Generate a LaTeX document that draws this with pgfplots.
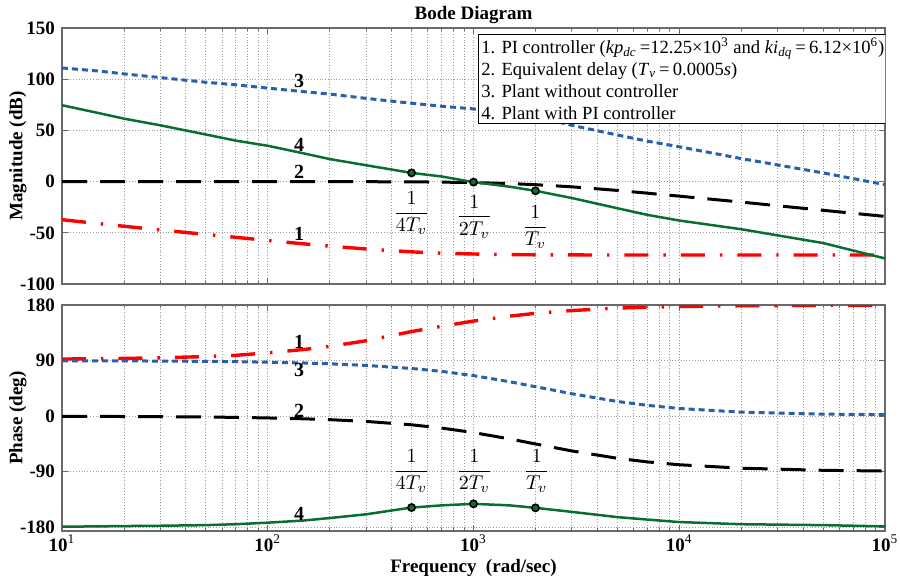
\documentclass[border=0pt]{standalone}
\usepackage{fontspec}
\setmainfont{Liberation Serif}
\usepackage{pgfplots}
\pgfplotsset{compat=1.18}
\usepackage{pgfplotstable}

\definecolor{mred}{RGB}{255,0,0}
\definecolor{mblue}{RGB}{42,95,170}
\definecolor{mgreen}{RGB}{10,110,50}
\definecolor{frame}{RGB}{105,105,105}

% magnitude (dB): 1 PI, 2 delay, 3 plant, 4 plant+PI
\pgfplotstableread{
f      m1     m2     m3     m4
10     -37.2  0      111    74.6
15     -41.0  0      108    67
20     -43.6  0      105.2  61.5
30     -47.2  0      101.6  55
50     -51.6  0      97     46
70     -54.4  0      94.5   40
100    -57.5  0      91.3   35
150    -60.8  0      87.8   27.5
200    -63.0  0      85.5   22
300    -65.8  -0.1   81.3   16
500    -68.6  -0.26  76.5   8.5
700    -69.9  -0.5   73.6   5
1000   -70.7  -0.97  71     -0.5
1500   -71.3  -1.9   67.5   -5
2000   -71.5  -3.0   63.5   -9
3000   -71.6  -5.1   55     -16
5000   -71.7  -8.6   45.5   -26
7000   -71.7  -11.3  39.5   -32.5
10000  -71.7  -14.2  34     -38
20000  -71.7  -20.0  22.5   -46.5
50000  -71.7  -28.0  8.5    -60
100000 -71.7  -34.0  -3     -75
}\magdata

% phase (deg)
\pgfplotstableread{
f      p1     p2     p3     p4
10     92.5   -0.3   89.7   -179
15     93     -0.4   89.6   -178.5
20     93.5   -0.6   89.5   -178
30     94.5   -0.9   89.2   -177.5
50     96.5   -1.4   88.7   -176.5
70     98.5   -2.0   88.2   -175
100    102.5  -2.9   87.4   -172.5
150    108    -4.3   86.1   -169
200    113    -5.7   84.8   -165
300    122    -8.5   82.2   -159
500    137    -14    77.2   -148
700    145.5  -19.3  72.5   -144.5
1000   154    -26.6  65.6   -142
1500   162    -36.9  55.7   -144.5
2000   166.5  -45    47.7   -148.5
3000   171    -56.3  36.3   -155
5000   175    -68.2  23.8   -163.5
7000   176.5  -74.1  17.5   -167.5
10000  177.5  -78.7  12.4   -171.5
20000  178.8  -84.3  6.5    -175
50000  179.5  -87.7  3.3    -176.5
100000 179.7  -88.9  2.5    -178.5
}\phasedata

\newcommand\lbl{\bfseries\fontsize{10}{12}\selectfont}
\newcommand\frc{\fontsize{10}{12}\selectfont}
\newcommand\tfont{\bfseries\fontsize{9.5}{11}\selectfont}

\pgfplotsset{
  c1/.style={mred, line width=1.7pt, dash pattern=on 12pt off 7.5pt on 1.2pt off 7.5pt},
  c2/.style={black, line width=1.5pt, dash pattern=on 12.5pt off 6.5pt},
  c3/.style={mblue, line width=1.5pt, dash pattern=on 3pt off 2pt},
  c4/.style={mgreen, line width=1.25pt},
  pts/.style={only marks, mark=*, mark size=1.8pt, mark options={draw=black, fill=mgreen, line width=0.8pt, solid}},
}

\begin{document}
\begin{tikzpicture}
\path[use as bounding box] (0,0) rectangle (450pt,287.5pt);

\begin{semilogxaxis}[
  scale only axis, width=411.5pt, height=128pt,
  at={(31pt,145.5pt)}, anchor=south west,
  xmin=10, xmax=100000, ymin=-100, ymax=150,
  grid=both,
  major grid style={gray!75, densely dotted, line width=0.4pt},
  minor grid style={gray!75, densely dotted, line width=0.4pt},
  axis line style={frame, line width=1pt},
  tick style={frame, line width=0.4pt},
  major tick length=3pt, minor tick length=1.5pt,
  tick align=inside,
  xtick={10,100,1000,10000,100000},
  xticklabels={},
  ytick={-100,-50,0,50,100,150},
  yticklabels={-100,-50,0,50,100,150},
  yticklabel style={font=\tfont},
  ylabel={Magnitude (dB)},
  ylabel style={at={(axis description cs:-0.0535,0.5)}, anchor=center, font=\tfont},
  title={Bode Diagram},
  every axis title shift=0pt,
  title style={at={(axis description cs:0.5,1)}, anchor=center, font=\tfont, yshift=6.5pt},
]
\addplot[c1] table[x=f, y=m1] {\magdata};
\addplot[c2] table[x=f, y=m2] {\magdata};
\addplot[c3] table[x=f, y=m3] {\magdata};
\addplot[c4] table[x=f, y=m4] {\magdata};
\addplot[pts] coordinates {(500,8.5) (1000,-0.5) (2000,-9)};

\node[font=\lbl] at (axis cs:142,98.7) {3};
\node[font=\lbl] at (axis cs:142,36.3) {4};
\node[font=\lbl] at (axis cs:142,9.4) {2};
\node[font=\lbl] at (axis cs:142,-51.4) {1};

\node[font=\frc] at (axis cs:500,-31) {$\displaystyle\frac{1}{4T_v}$};
\node[font=\frc] at (axis cs:1010,-34.5) {$\displaystyle\frac{1}{2T_v}$};
\node[font=\frc] at (axis cs:2000,-44.5) {$\displaystyle\frac{1}{T_v}$};

\node[draw=black, line width=0.6pt, fill=white, anchor=north east, align=left,
      inner sep=1.5pt, font=\fontsize{9.3}{11}\selectfont]
  at (rel axis cs:1,1) [xshift=1.5pt, yshift=-3pt]
  {1. PI controller (\textit{kp}\textsubscript{\textit{dc}}\,=12.25×10\textsuperscript{3} and \textit{ki}\textsubscript{\textit{dq}}\,=\,6.12×10\textsuperscript{6})\\
   2. Equivalent delay (\textit{T}\textsubscript{\textit{v}}\,=\,0.0005\textit{s})\\
   3. Plant without controller\\
   4. Plant with PI controller};
\end{semilogxaxis}

\begin{semilogxaxis}[
  scale only axis, width=411.5pt, height=113pt,
  at={(31pt,22pt)}, anchor=south west,
  xmin=10, xmax=100000, ymin=-186, ymax=180,
  grid=both,
  major grid style={gray!75, densely dotted, line width=0.4pt},
  minor grid style={gray!75, densely dotted, line width=0.4pt},
  axis line style={frame, line width=1pt},
  tick style={frame, line width=0.4pt},
  major tick length=3pt, minor tick length=1.5pt,
  tick align=inside,
  xtick={10,100,1000,10000,100000},
  xticklabels={10\textsuperscript{\mdseries 1},10\textsuperscript{\mdseries 2},10\textsuperscript{\mdseries 3},10\textsuperscript{\mdseries 4},10\textsuperscript{\mdseries 5}},
  xticklabel style={font=\tfont, yshift=1.5pt},
  ytick={-180,-90,0,90,180},
  yticklabels={-180,-90,0,90,180},
  yticklabel style={font=\tfont},
  ylabel={Phase (deg)},
  ylabel style={at={(axis description cs:-0.0535,0.5)}, anchor=center, font=\tfont},
  xlabel={Frequency\ \ (rad/sec)},
  xlabel style={at={(axis description cs:0.5,0)}, anchor=center, yshift=-18.5pt, font=\tfont},
]
\addplot[c1] table[x=f, y=p1] {\phasedata};
\addplot[c2] table[x=f, y=p2] {\phasedata};
\addplot[c3] table[x=f, y=p3] {\phasedata};
\addplot[c4] table[x=f, y=p4] {\phasedata};
\addplot[pts] coordinates {(500,-148) (1000,-142) (2000,-148.5)};

\node[font=\lbl] at (axis cs:142,121) {1};
\node[font=\lbl] at (axis cs:142,74) {3};
\node[font=\lbl] at (axis cs:142,9) {2};
\node[font=\lbl] at (axis cs:142,-158) {4};

\node[font=\frc] at (axis cs:500,-89) {$\displaystyle\frac{1}{4T_v}$};
\node[font=\frc] at (axis cs:1010,-89) {$\displaystyle\frac{1}{2T_v}$};
\node[font=\frc] at (axis cs:2030,-89) {$\displaystyle\frac{1}{T_v}$};
\end{semilogxaxis}
\end{tikzpicture}
\end{document}
